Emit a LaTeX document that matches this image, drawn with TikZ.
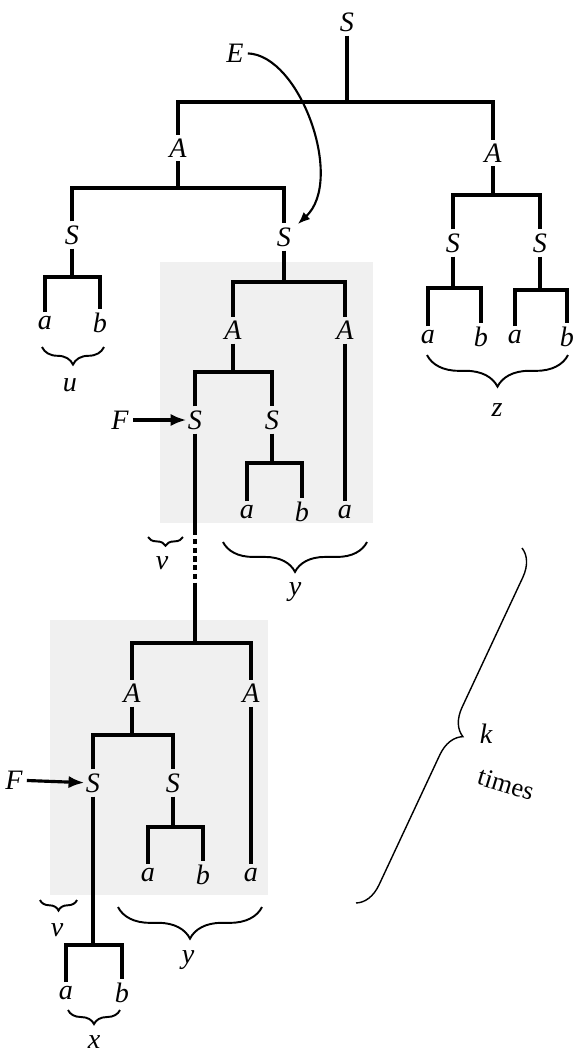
\documentclass[tikz,border=0pt]{standalone}
\usepackage{fontspec}
\setmainfont{Liberation Serif}
\usetikzlibrary{arrows.meta, decorations.pathreplacing}

% bracket from a parent down to two children, bar at height #4
\newcommand{\fork}[4]{%
    \draw[tree] (#1) -- (#1 |- 0,#4);
    \draw[tree] (#2) -- (#2 |- 0,#4) -- (#3 |- 0,#4) -- (#3);}

\begin{document}
\begin{tikzpicture}[>={Latex[length=7pt, width=5.5pt]}, x=0.02cm, y=-0.02cm,
    tree/.style={line width=2.8pt},
    sym/.style={font=\fontsize{16}{19}\selectfont\itshape, inner sep=2.2pt},
    brc/.style={decorate, decoration={brace, amplitude=#1}, line width=1.1pt}]

    \useasboundingbox (0,0) rectangle (579,1055);

    % Shaded copies of the pumped part
    \fill[black!6] (160,262) rectangle (373,523);
    \fill[black!6] (50,620) rectangle (268,895);

    % Top levels
    \node[sym] (s0) at (347,22) {S};
    \node[sym] (a1) at (178,148) {A};
    \node[sym] (a2) at (493,153) {A};
    \fork{s0}{a1}{a2}{102}
    \node[sym] (s1) at (72,235) {S};
    \node[sym] (s2) at (284,237) {S};
    \fork{a1}{s1}{s2}{188}
    \node[sym] (s3) at (453,243) {S};
    \node[sym] (s4) at (540,243) {S};
    \fork{a2}{s3}{s4}{195}

    % u and z
    \node[sym] (u1a) at (45,323) {a};
    \node[sym] (u1b) at (100,323) {b};
    \fork{s1}{u1a}{u1b}{277}
    \node[sym] (z1a) at (428,337) {a};
    \node[sym] (z1b) at (481,337) {b};
    \fork{s3}{z1a}{z1b}{288}
    \node[sym] (z2a) at (515,337) {a};
    \node[sym] (z2b) at (567,337) {b};
    \fork{s4}{z2a}{z2b}{290}

    % First copy
    \node[sym] (a3) at (233,330) {A};
    \node[sym] (a4) at (345,330) {A};
    \fork{s2}{a3}{a4}{282}
    \node[sym] (s5) at (195,420) {S};
    \node[sym] (s6) at (272,420) {S};
    \fork{a3}{s5}{s6}{372}
    \node[sym] (y1a) at (247,512) {a};
    \node[sym] (y1b) at (302,512) {b};
    \fork{s6}{y1a}{y1b}{463}
    \node[sym] (y1c) at (345,512) {a};
    \draw[tree] (a4) -- (y1c);

    % Repetitions
    \coordinate (d1) at (195,530);
    \coordinate (d2) at (195,583);
    \draw[tree] (s5) -- (d1);
    \draw[tree, dash pattern=on 3pt off 2pt] (d1) -- (d2);

    % Last copy
    \node[sym] (a5) at (132,693) {A};
    \node[sym] (a6) at (251,693) {A};
    \fork{d2}{a5}{a6}{643}
    \node[sym] (s7) at (93,783) {S};
    \node[sym] (s8) at (173,783) {S};
    \fork{a5}{s7}{s8}{735}
    \node[sym] (y2a) at (148,875) {a};
    \node[sym] (y2b) at (203,875) {b};
    \fork{s8}{y2a}{y2b}{827}
    \node[sym] (y2c) at (251,875) {a};
    \draw[tree] (a6) -- (y2c);
    \node[sym] (x1a) at (66,993) {a};
    \node[sym] (x1b) at (122,993) {b};
    \fork{s7}{x1a}{x1b}{945}

    % E and F pointers
    \node[sym] (e) at (235,53) {E};
    \draw[->, line width=1.2pt, shorten >=2pt] (e) .. controls (300,55) and (345,180) .. (s2);
    \node[sym] (f1) at (120,420) {F};
    \draw[-{Latex[length=9pt, width=7pt]}, line width=1.8pt, shorten >=-1.5pt] (f1) -- (s5);
    \node[sym] (f2) at (14,780) {F};
    \draw[-{Latex[length=9pt, width=7pt]}, line width=1.8pt, shorten >=-1.5pt] (f2) -- (s7);

    % Braces
    \draw[brc=10pt] (104,347) -- (42,347);
    \node[sym] (u) at (70,385) {u};
    \draw[brc=18pt] (568,355) -- (427,355);
    \node[sym] (z) at (497,410) {z};
    \draw[brc=5pt] (183,537) -- (148,537);
    \node[sym] (v1) at (162,563) {v};
    \draw[brc=17pt] (367,542) -- (223,542);
    \node[sym] (y1) at (295,592) {y};
    \draw[brc=6pt] (77,900) -- (40,900);
    \node[sym] (v2) at (57,930) {v};
    \draw[brc=18pt] (262,907) -- (118,907);
    \node[sym] (y2) at (188,960) {y};
    \draw[brc=8pt] (120,1010) -- (68,1010);
    \node[sym] (x) at (94,1042) {x};

    % k times
    \draw[brc=15pt, line width=0.8pt] (522,548) -- (356,903);
    \node[sym, inner sep=1pt] (k) at (486,734) {k};
    \node[font=\fontsize{15}{17}\selectfont, rotate=-17, inner sep=0pt] (times) at (506,784) {times};
\end{tikzpicture}
\end{document}
